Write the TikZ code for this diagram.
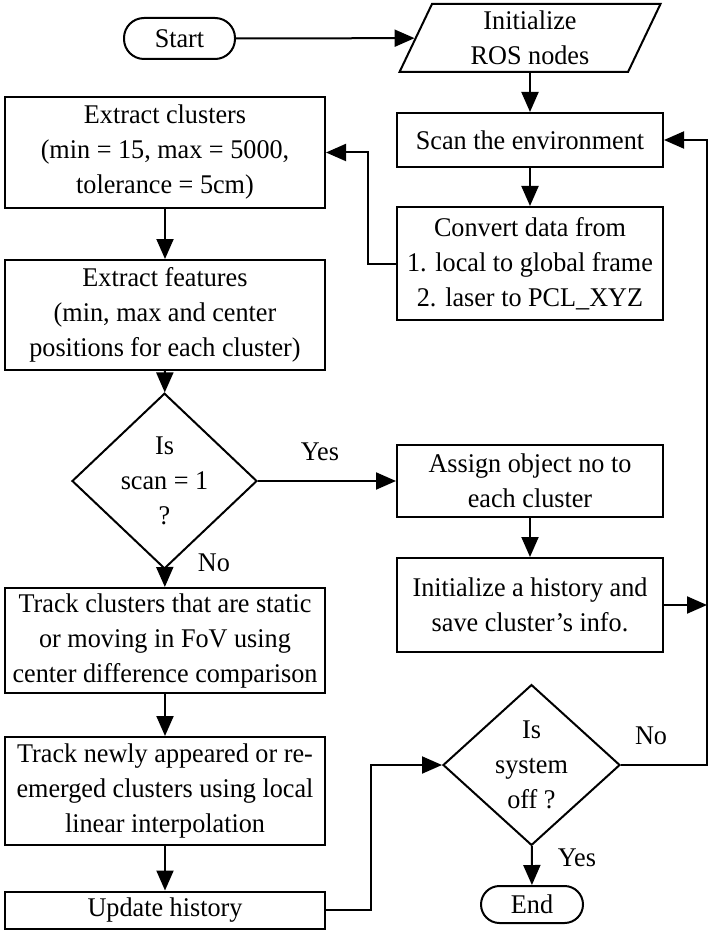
\documentclass[tikz,border=0pt]{standalone}
\usepackage{fontspec}
\setmainfont{Liberation Serif}[FakeStretch=0.97]
\usetikzlibrary{arrows.meta}
\usetikzlibrary{shapes.geometric}
\tikzset{
	lbl/.style={font=\fontsize{27}{35}\selectfont, inner sep=0pt},
	blk/.style={draw, line width=2pt, rectangle, inner sep=0pt, align=center, font=\fontsize{27}{35}\selectfont},
	term/.style={blk, rounded corners=#1},
	io/.style={blk, trapezium, trapezium left angle=70, trapezium right angle=110, trapezium stretches=true},
	dec/.style={blk, diamond},
	flow/.style={line width=2pt, -{Triangle[length=20pt,width=17pt]}}
}

\begin{document}
\begin{tikzpicture}[x=1pt, y=-1pt]
			\useasboundingbox (0,0) rectangle (709,933);
			\node[term=20pt, minimum width=111pt, minimum height=41pt] (start) at (179.5,38.5) {Start};
			\node[io, minimum width=261pt, minimum height=68pt] (init) at (530,38) {Initialize\\ROS nodes};
			\node[blk, minimum width=266pt, minimum height=54pt] (scan) at (530,140) {Scan the environment};
			\node[blk, minimum width=266pt, minimum height=113pt] (conv) at (530,263.5) {Convert data from\\1. local to global frame\\2. laser to PCL\_XYZ};
			\node[blk, minimum width=320pt, minimum height=111pt] (clus) at (165,152.5) {Extract clusters\\(min = 15, max = 5000,\\tolerance = 5cm)};
			\node[blk, minimum width=320pt, minimum height=110pt] (feat) at (165,315) {Extract features\\(min, max and center\\positions for each cluster)};
			\node[dec, minimum width=185pt, minimum height=118pt] (scan1) at (164.5,481) {Is\\scan = 1\\?};
			\node[blk, minimum width=266pt, minimum height=72pt] (assign) at (530,481) {Assign object no to\\each cluster};
			\node[blk, minimum width=266pt, minimum height=94pt] (hist) at (530,605) {Initialize a history and\\save cluster’s info.};
			\node[blk, minimum width=320pt, minimum height=105pt] (track) at (165,640.5) {Track clusters that are static\\or moving in FoV using\\center difference comparison};
			\node[blk, minimum width=320pt, minimum height=108pt] (newly) at (165,791) {Track newly appeared or re-\\emerged clusters using local\\linear interpolation};
			\node[blk, minimum width=320pt, minimum height=37pt] (update) at (165,910) {Update history};
			\node[dec, minimum width=177pt, minimum height=140pt] (off) at (531.5,765) {Is\\system\\off ?};
			\node[term=18.5pt, minimum width=102pt, minimum height=37pt] (end) at (532,904.5) {End};
			\node[lbl] (yes1) at (320,452) {Yes};
			\node[lbl] (no1) at (214,563) {No};
			\node[lbl] (no2) at (651,736) {No};
			\node[lbl] (yes2) at (577,858) {Yes};
			\coordinate (rail) at (707,605);
			\draw[flow] (start) -- (init);
			\draw[flow] (init) -- (scan);
			\draw[flow] (scan) -- (conv);
			\draw[flow] (conv.west) -- ++(-28,0) |- (clus.east);
			\draw[flow] (clus) -- (feat);
			\draw[flow] (feat) -- (scan1);
			\draw[flow] (scan1) -- (assign);
			\draw[flow] (scan1) -- (track);
			\draw[flow] (assign) -- (hist);
			\draw[flow] (hist.east) -- (rail);
			\draw[flow] (track) -- (newly);
			\draw[flow] (newly) -- (update);
			\draw[flow] (update.east) -- ++(45,0) |- (off.west);
			\draw[flow] (off) -- (end);
			\draw[flow] (off.east) -- (rail |- off.east) |- (scan.east);
		\end{tikzpicture}
\end{document}
